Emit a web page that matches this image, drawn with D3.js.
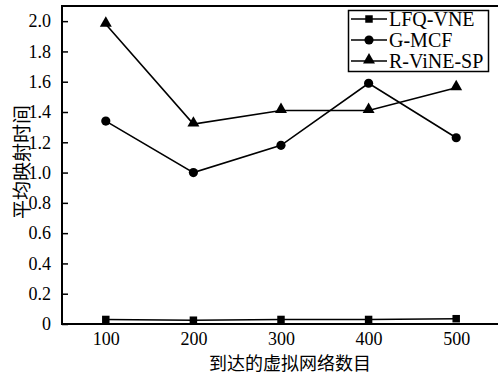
<!DOCTYPE html>
<html>
<head>
<meta charset="utf-8">
<script src="https://cdn.jsdelivr.net/npm/d3@7"></script>
<style>
  body { margin: 0; background: #fff; }
  svg { display: block; }
</style>
</head>
<body>
<svg id="chart" width="498" height="374"></svg>
<script>
// data
const networks = [100, 200, 300, 400, 500];
const lfqVne = [0.03, 0.025, 0.03, 0.03, 0.035];
const gMcf = [1.34, 1.00, 1.18, 1.59, 1.23];
const rVineSp = [1.98, 1.32, 1.41, 1.41, 1.56];
const seriesNames = ["LFQ-VNE", "G-MCF", "R-ViNE-SP"];
const yTicks = [0, 0.2, 0.4, 0.6, 0.8, 1.0, 1.2, 1.4, 1.6, 1.8, 2.0];

const serif = "'Liberation Serif', 'Times New Roman', serif";
const cjk = "'Noto Sans CJK SC', sans-serif";

const svg = d3.select("#chart");

// plot area
const plot = {left: 62, right: 500, top: 6, bottom: 324};

const xScale = d3.scaleLinear().domain([50, 550]).range([plot.left, plot.right]);
const yScale = d3.scaleLinear().domain([0, 2.1]).range([plot.bottom, plot.top]);

// y axis, ticks pointing inward
const yAxis = svg.append("g")
    .attr("transform", `translate(${plot.left},0)`)
    .call(d3.axisLeft(yScale).tickValues(yTicks).tickSizeInner(-6).tickSizeOuter(0).tickPadding(11)
        .tickFormat(d => d === 0 ? "0" : d3.format(".1f")(d)));
yAxis.select(".domain").remove();
yAxis.selectAll("line").attr("stroke", "#000").attr("stroke-width", 1.5);
yAxis.selectAll("text").attr("font-family", serif).attr("font-size", "18px").attr("fill", "#000");

// x axis labels, no tick marks
const xAxis = svg.append("g")
    .attr("transform", `translate(0,${plot.bottom})`)
    .call(d3.axisBottom(xScale).tickValues(networks).tickSize(0).tickPadding(8));
xAxis.select(".domain").remove();
xAxis.selectAll("text").attr("font-family", serif).attr("font-size", "18px").attr("fill", "#000");

// frame: left, top, bottom
svg.append("path")
    .attr("d", `M${plot.right},${plot.top}H${plot.left}V${plot.bottom}H${plot.right}`)
    .attr("fill", "none")
    .attr("stroke", "#000")
    .attr("stroke-width", 2);

// axis titles
svg.append("text")
    .attr("x", 290)
    .attr("y", 370)
    .attr("text-anchor", "middle")
    .attr("font-family", cjk)
    .attr("font-size", "18px")
    .text("到达的虚拟网络数目");

svg.append("text")
    .attr("transform", "rotate(-90)")
    .attr("x", -(plot.top + plot.bottom) / 2 + 3)
    .attr("y", 29)
    .attr("text-anchor", "middle")
    .attr("font-family", cjk)
    .attr("font-size", "19px")
    .text("平均映射时间");

// marker drawers
const symbols = [
    d3.symbol().type(d3.symbolSquare).size(56),
    d3.symbol().type(d3.symbolCircle).size(66),
    d3.symbol().type(d3.symbolTriangle).size(62)
];

const allSeries = [lfqVne, gMcf, rVineSp];
const line = d3.line()
    .x((d, i) => xScale(networks[i]))
    .y(d => yScale(d));

allSeries.forEach((values, s) => {
    svg.append("path")
        .datum(values)
        .attr("d", line)
        .attr("fill", "none")
        .attr("stroke", "#000")
        .attr("stroke-width", 1.6);
    svg.selectAll(`.m${s}`)
        .data(values)
        .enter()
        .append("path")
        .attr("class", `m${s}`)
        .attr("d", symbols[s])
        .attr("transform", (d, i) => `translate(${xScale(networks[i])},${yScale(d) - (s === 2 ? 1 : 0)})`)
        .attr("fill", "#000");
});

// legend
const legend = svg.append("g");
legend.append("rect")
    .attr("x", 348.5).attr("y", 10.5)
    .attr("width", 140).attr("height", 61)
    .attr("fill", "#fff")
    .attr("stroke", "#000")
    .attr("stroke-width", 1.5);

const rowY = [19, 40, 61];
seriesNames.forEach((name, s) => {
    legend.append("line")
        .attr("x1", 351).attr("x2", 387)
        .attr("y1", rowY[s]).attr("y2", rowY[s])
        .attr("stroke", "#000").attr("stroke-width", 1.6);
    legend.append("path")
        .attr("d", symbols[s])
        .attr("transform", `translate(369,${rowY[s] - (s === 2 ? 1 : 0)})`)
        .attr("fill", "#000");
    legend.append("text")
        .attr("x", 389)
        .attr("y", rowY[s])
        .attr("dy", "0.35em")
        .attr("font-family", serif)
        .attr("font-size", "20px")
        .text(name);
});
</script>
</body>
</html>
